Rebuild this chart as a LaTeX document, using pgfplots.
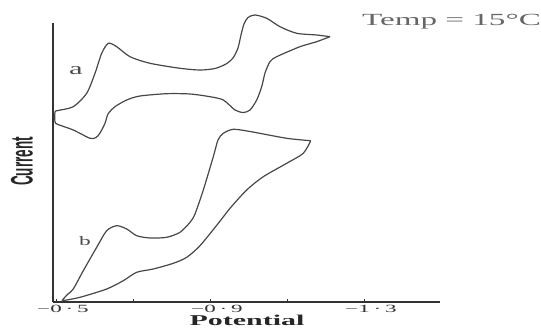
\documentclass[border=0pt]{standalone}
\usepackage{fontspec}
\setmainfont{Liberation Serif}
\newfontfamily\sansb{Liberation Sans}
\usepackage{graphicx}
\usepackage{pgfplots}
\pgfplotsset{compat=1.18}
\newcommand\tl[1]{\scalebox{2.1}[1]{\fontsize{11}{11}\selectfont #1}}
\begin{document}
\begin{tikzpicture}
\path[use as bounding box] (-53pt,-27pt) rectangle (488pt,302pt);
\begin{axis}[
  at={(0pt,0pt)}, anchor=south west,
  scale only axis, width=387pt, height=279pt,
  x dir=reverse,
  xmin=-1.4948, xmax=-0.4896,
  ymin=0, ymax=279,
  axis x line*=bottom, axis y line*=left,
  ytick=\empty,
  xtick={-0.5,-0.7,-0.9,-1.1,-1.3,-1.5},
  xticklabels={{\tl{−0\,·\,5}},{},{\tl{−0\,·\,9}},{},{\tl{−1\,·\,3}},{}},
  xticklabel style={text=black!80, xshift=6pt, yshift=0.5pt},
  clip=false,
  axis line style={black!80, line width=1.3pt},
  tick style={black!80, line width=1pt},
  major tick length=3pt,
]
% curve a
\addplot[black!72, line width=1.2pt, smooth, tension=0.45] table {
x y
-1.2091 265.3
-1.1745 260.3
-1.1312 255.3
-1.0706 245.3
-1.0532 240.3
-1.0403 229
-1.0317 215.3
-1.0187 202
-1.0013 192
-0.9839 189.5
-0.9623 192
-0.9320 202
-0.8974 205.3
-0.8455 208
-0.7849 208.3
-0.7156 206
-0.6810 202
-0.6506 195.3
-0.6325 188
-0.6247 178.7
-0.6117 169
-0.6013 164.5
-0.5857 163.7
-0.5423 172
-0.5026 177.5
-0.4948 180
-0.4948 190
-0.5026 191.5
-0.5423 195.3
-0.5771 208.7
-0.5987 228.7
-0.6161 248.7
-0.6332 258.7
-0.6551 255.3
-0.6896 245.3
-0.7416 238.7
-0.8195 233.7
-0.8714 232
-0.9104 233.5
-0.9390 238
-0.9571 244
-0.9701 254
-0.9779 267
-0.9857 278
-0.9961 284.5
-1.0143 287
-1.0447 283.7
-1.0792 275.3
-1.1226 268.7
-1.1745 267
-1.2091 265.3
};
% curve b
\addplot[black!72, line width=1.2pt, smooth, tension=0.45] table {
x y
-1.1590 161.3
-1.1397 148.7
-1.0966 138.7
-1.0358 125.3
-0.9927 112
-0.9494 93.7
-0.9190 78.7
-0.8714 56.3
-0.8369 44.7
-0.8021 38.7
-0.7501 33
-0.7070 29.7
-0.6722 21.3
-0.6291 13
-0.5597 4.7
-0.5164 1.5
-0.5164 3
-0.5286 8
-0.5423 13
-0.5683 31.3
-0.6031 54.7
-0.6291 71.3
-0.6551 76.3
-0.6810 73
-0.7070 66.3
-0.7416 64
-0.7849 64.7
-0.8195 69.7
-0.8455 79.7
-0.8584 88
-0.8800 112
-0.9060 145.3
-0.9182 162
-0.9320 168.7
-0.9579 172.7
-1.0013 170.5
-1.0966 163.7
-1.1590 161.3
};
\node[text=black!70] at (axis cs:-0.5494,231.3) {\scalebox{1.8}[1]{\fontsize{17}{17}\selectfont a}};
\node[text=black!70] at (axis cs:-0.5727,60.7) {\scalebox{1.8}[1]{\fontsize{13}{13}\selectfont b}};
\node[text=black!60] at (axis cs:-1.5247,280.3) {\scalebox{1.95}[1]{\fontsize{17}{17}\selectfont Temp = 15°C}};
\node[text=black!85] at (axis cs:-0.9935,-18.5) {\scalebox{2}[1]{\fontsize{15}{15}\selectfont\bfseries Potential}};
\node[text=black!85] at (axis cs:-0.4091,140.5) {\scalebox{2.3}[1]{\rotatebox{90}{\fontsize{13.5}{13.5}\selectfont\sansb\bfseries Current}}};
\end{axis}
\end{tikzpicture}
\end{document}
